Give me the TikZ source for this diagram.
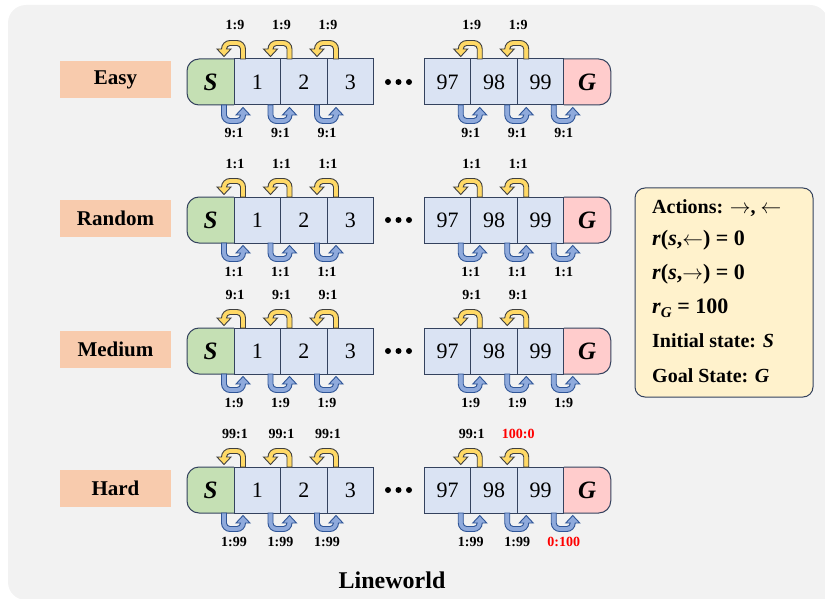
\documentclass[tikz,border=0pt]{standalone}
\usepackage{fontspec}
\setmainfont{Liberation Serif}
\usetikzlibrary{calc}

\definecolor{bggray}{HTML}{F2F2F2}
\definecolor{peach}{HTML}{F8CBAD}
\definecolor{cellblue}{HTML}{DAE3F3}
\definecolor{sgreen}{HTML}{C5E0B4}
\definecolor{gpink}{HTML}{FFCCCC}
\definecolor{edge}{HTML}{34425E}
\definecolor{ayellow}{HTML}{FFD966}
\definecolor{ayedge}{HTML}{3F3F3F}
\definecolor{ablue}{HTML}{8FAADC}
\definecolor{abedge}{HTML}{2F5597}
\definecolor{infoyellow}{HTML}{FFF2CC}

\pgfdeclarelayer{back}
\pgfdeclarelayer{mid}
\pgfsetlayers{back,mid,main}

\newcommand{\bvar}[1]{\textit{#1}}

\tikzset{
  cellbox/.style={draw=edge, line width=1pt, fill=cellblue,
    minimum width=46.5pt, minimum height=46pt, inner sep=0pt, outer sep=0pt,
    font=\fontsize{22}{24}\selectfont},
  endbox/.style={minimum width=47pt, minimum height=46pt, inner sep=0pt, outer sep=0pt,
    font=\fontsize{25}{28}\selectfont\bfseries\itshape},
  endshape/.style={draw=edge, line width=1pt, rounded corners=12pt},
  lvlbox/.style={fill=peach, minimum width=111pt, minimum height=37pt, inner sep=0pt,
    font=\fontsize{21}{24}\selectfont\bfseries},
  ratio/.style={anchor=base, inner sep=0pt, font=\fontsize{14}{16}\selectfont\bfseries},
  infotxt/.style={anchor=base west, inner sep=0pt, font=\fontsize{20}{24}\selectfont\bfseries},
  infomath/.style={infotxt, font=\fontsize{22}{24}\selectfont\bfseries},
  % U-turn arrow: stem rises at the right, bends over, head points down at the left
  uturn/.pic={
    \path[pic actions] (6.5,0) -- (11.5,0) -- (11.5,-10)
      .. controls (11.5,-14.69) and (7.69,-18.5) .. (3,-18.5) -- (-4,-18.5)
      .. controls (-8.69,-18.5) and (-12.5,-14.69) .. (-12.5,-10)
      -- (-17,-10) -- (-10,-2.5) -- (-3,-10) -- (-7.5,-10)
      .. controls (-7.5,-11.93) and (-5.93,-13.5) .. (-4,-13.5) -- (3,-13.5)
      .. controls (4.93,-13.5) and (6.5,-11.93) .. (6.5,-10) -- cycle;
  },
  yarrow/.style={fill=ayellow, draw=ayedge, line width=0.9pt},
  barrow/.style={fill=ablue, draw=abedge, line width=0.9pt, rotate=180},
}

\begin{document}
\begin{tikzpicture}[x=1pt, y=-1pt]
\useasboundingbox (0,0) rectangle (825,599);

\begin{pgfonlayer}{back}
  \fill[bggray, rounded corners=18pt] (8,5) rectangle (828,600);
  \fill[bggray] (700,500) rectangle (830,602);
\end{pgfonlayer}

\foreach \lbl/\yy/\rt/\rb/\rtl/\rbl [count=\i] in {
  Easy/82/1:9/9:1/1:9/9:1,
  Random/220/1:1/1:1/1:1/1:1,
  Medium/351/9:1/1:9/9:1/1:9,
  Hard/490/99:1/1:99/{\textcolor{red}{100:0}}/{\textcolor{red}{0:100}}}
{
  \node[lvlbox] (lab\i) at (115.5,\yy-2) {\lbl};

  % states of the line
  \node[endbox] (s\i) at (210.5,\yy) {S};
  \node[cellbox] (a\i) at (257.25,\yy) {1};
  \node[cellbox] (b\i) at (303.75,\yy) {2};
  \node[cellbox] (c\i) at (350.25,\yy) {3};
  \node[cellbox] (x\i) at (447.5,\yy) {97};
  \node[cellbox] (y\i) at (494,\yy) {98};
  \node[cellbox] (z\i) at (540.5,\yy) {99};
  \node[endbox] (g\i) at (587.25,\yy) {G};

  \begin{pgfonlayer}{mid}
    \draw[endshape, fill=sgreen] (s\i.north east) -- (s\i.north west)
      -- (s\i.south west) -- (s\i.south east);
    \draw[endshape, fill=gpink] (g\i.north west) -- (g\i.north east)
      -- (g\i.south east) -- (g\i.south west);
  \end{pgfonlayer}

  % gap between state 3 and state 97
  \foreach \dx in {388,398.5,409}
    \fill (\dx,\yy) circle (3pt);

  % transition arrows with their odds
  \foreach \nm/\txt in {s/\rt,a/\rt,b/\rt,x/\rt,y/\rtl} {
    \pic[yarrow] at (\nm\i.north east) {uturn};
    \node[ratio] (t\nm\i) at ($(\nm\i.north east)+(1,-29)$) {\txt};
  }
  \foreach \nm/\txt in {s/\rb,a/\rb,b/\rb,x/\rb,y/\rb,z/\rbl} {
    \pic[barrow] at ($(\nm\i.south east)+(-1,0)$) {uturn};
    \node[ratio] (u\nm\i) at ($(\nm\i.south east)+(0,33)$) {\txt};
  }
}

% summary box
\node[draw=edge, line width=1pt, fill=infoyellow, rounded corners=10pt,
      minimum width=178pt, minimum height=209pt, inner sep=0pt] (info) at (724,292.5) {};
\node[infotxt] (i1) at (652,213) {Actions: $\rightarrow$, $\leftarrow$};
\node[infomath] (i2) at (652,245) {\bvar{r}(\bvar{s},$\leftarrow$) = 0};
\node[infomath] (i3) at (652,279) {\bvar{r}(\bvar{s},$\rightarrow$) = 0};
\node[infomath] (i4) at (652,313) {\bvar{r}\raisebox{-4pt}{\fontsize{15}{16}\selectfont\bvar{G}} = 100};
\node[infotxt] (i5) at (652,347) {Initial state: \bvar{S}};
\node[infotxt] (i6) at (652,382) {Goal State: \bvar{G}};

\node[anchor=base, inner sep=0pt, font=\fontsize{24}{28}\selectfont\bfseries] (title) at (392,588) {Lineworld};
\end{tikzpicture}
\end{document}
